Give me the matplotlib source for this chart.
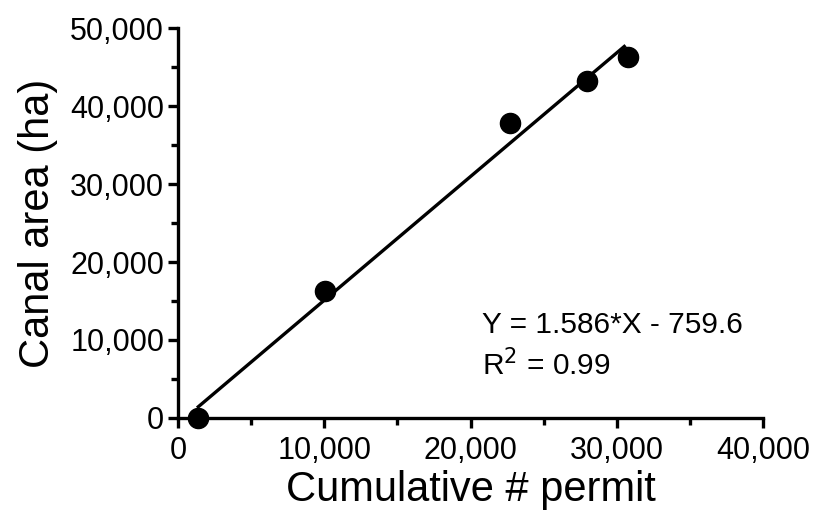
import matplotlib
matplotlib.use('Agg')
import matplotlib.pyplot as plt
import numpy as np
from matplotlib.ticker import MultipleLocator, FuncFormatter

plt.rcParams['font.family'] = ['Liberation Sans', 'DejaVu Sans']

# datos
permisos = np.array([1350, 10050, 22700, 27950, 30750])
area_canal = np.array([0, 16300, 37800, 43150, 46300])

# recta de ajuste
pendiente = 1.586
intercepto = -759.6
x_ajuste = np.array([1300, 30600])
y_ajuste = pendiente * x_ajuste + intercepto

fig = plt.figure(figsize=(8.14, 5.12), dpi=100)
ax = fig.add_axes([0.2187, 0.1836, 0.7187, 0.7617])

ax.plot(x_ajuste, y_ajuste, color='black', lw=2.4, solid_capstyle='butt')
ax.plot(permisos, area_canal, 'o', color='black', markersize=14.5, clip_on=False, zorder=5)

ax.set_xlim(0, 40000)
ax.set_ylim(0, 50000)
ax.xaxis.set_major_locator(MultipleLocator(10000))
ax.xaxis.set_minor_locator(MultipleLocator(5000))
ax.yaxis.set_major_locator(MultipleLocator(10000))
ax.yaxis.set_minor_locator(MultipleLocator(5000))
fmt = FuncFormatter(lambda v, p: f'{int(v):,}')
ax.xaxis.set_major_formatter(fmt)
ax.yaxis.set_major_formatter(fmt)

for lado in ['top', 'right']:
    ax.spines[lado].set_visible(False)
for lado in ['left', 'bottom']:
    ax.spines[lado].set_linewidth(2.4)

ax.tick_params(which='major', direction='out', length=7, width=2.4, labelsize=22, pad=3)
ax.tick_params(which='minor', direction='out', length=5, width=2.4)
ax.tick_params(axis='x', which='major', pad=6)

ax.set_xlabel('Cumulative # permit', fontsize=30, labelpad=3)
ax.set_ylabel('Canal area (ha)', fontsize=30, labelpad=9)

ax.text(0.52, 0.218, 'Y = 1.586*X - 759.6', transform=ax.transAxes, fontsize=21.5, va='baseline')
ax.text(0.52, 0.110, 'R$^2$ = 0.99', transform=ax.transAxes, fontsize=21.5, va='baseline')

fig.savefig('out.png', dpi=100)
